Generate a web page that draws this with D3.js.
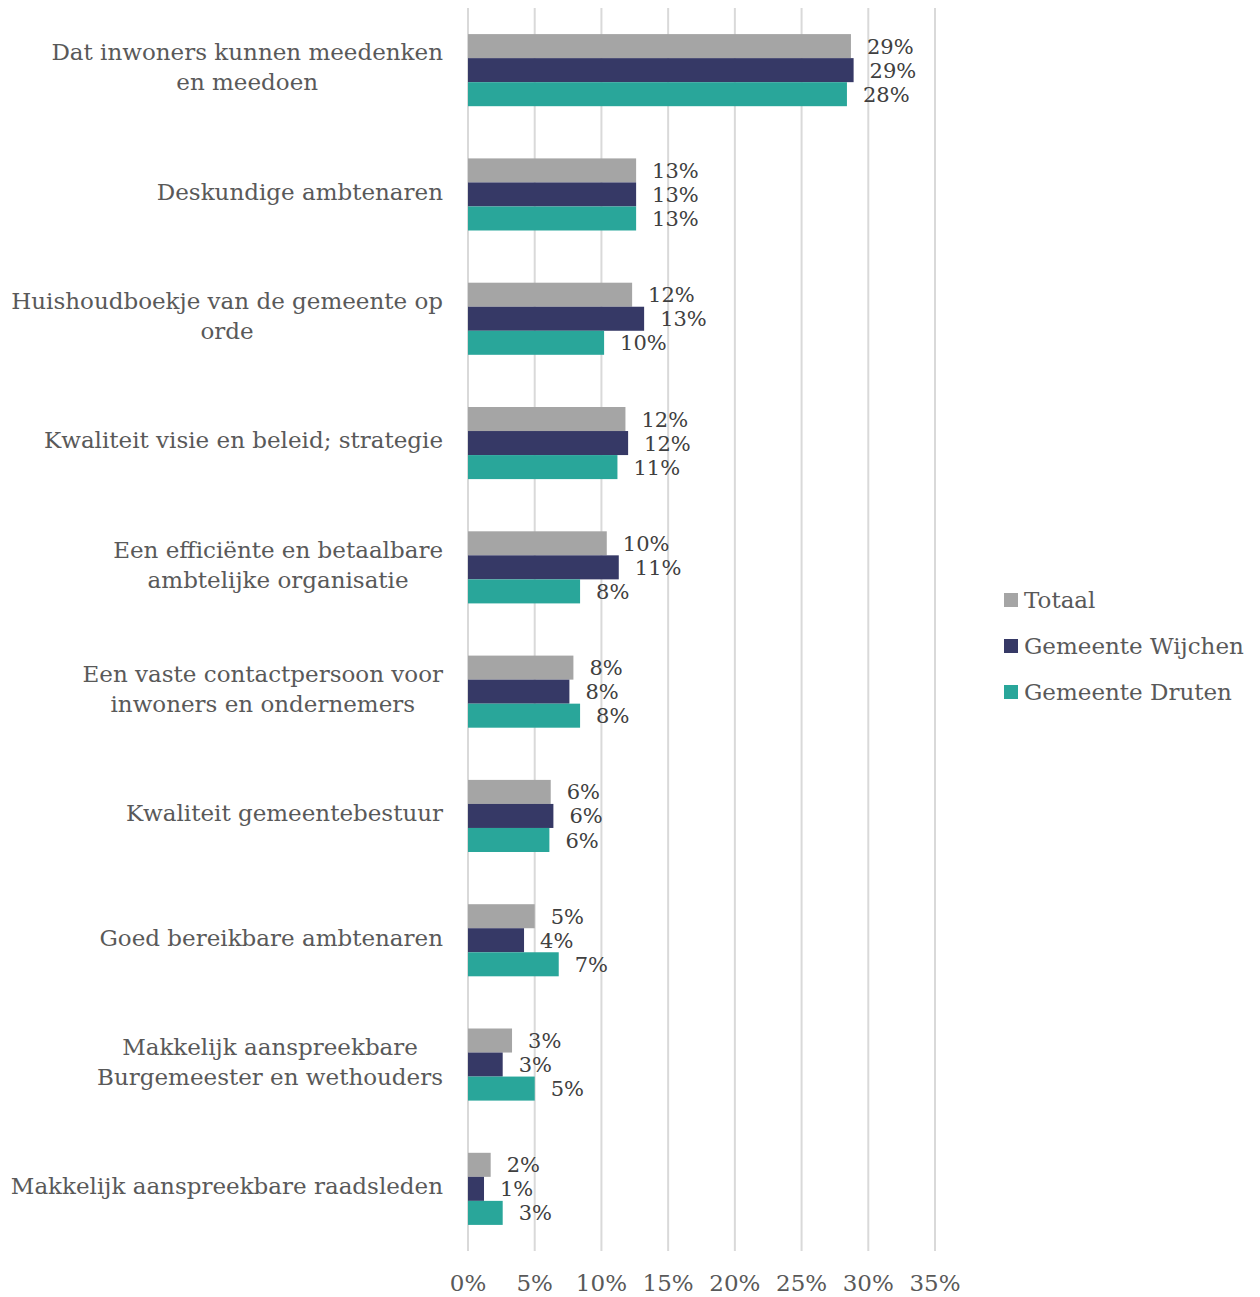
<!DOCTYPE html>
<html>
<head>
<meta charset="utf-8">
<script src="https://cdn.jsdelivr.net/npm/d3@7"></script>
<style>
  html, body { margin: 0; padding: 0; background: #fff; }
  svg { display: block; font-family: "DejaVu Serif", serif; }
</style>
</head>
<body>
<svg id="chart" width="1260" height="1297"></svg>
<script>
const categories = [
  ["Dat inwoners kunnen meedenken", "en meedoen"],
  ["Deskundige ambtenaren"],
  ["Huishoudboekje van de gemeente op", "orde"],
  ["Kwaliteit visie en beleid; strategie"],
  ["Een efficiënte en betaalbare", "ambtelijke organisatie"],
  ["Een vaste contactpersoon voor", "inwoners en ondernemers"],
  ["Kwaliteit gemeentebestuur"],
  ["Goed bereikbare ambtenaren"],
  ["Makkelijk aanspreekbare", "Burgemeester en wethouders"],
  ["Makkelijk aanspreekbare raadsleden"]
];
const seriesNames = ["Totaal", "Gemeente Wijchen", "Gemeente Druten"];
const totaal  = [28.7, 12.6, 12.3, 11.8, 10.4, 7.9, 6.2, 5.0, 3.3, 1.7];
const wijchen = [28.9, 12.6, 13.2, 12.0, 11.3, 7.6, 6.4, 4.2, 2.6, 1.2];
const druten  = [28.4, 12.6, 10.2, 11.2, 8.4, 8.4, 6.1, 6.8, 5.0, 2.6];
const seriesValues = [totaal, wijchen, druten];
const colors = ["#A5A5A5", "#363966", "#29A69A"];
const xTicks = [0, 5, 10, 15, 20, 25, 30, 35];

const svg = d3.select("#chart");
const x = d3.scaleLinear().domain([0, 35]).range([468, 935]);
const catIdx = categories.map((d, i) => i);
const y = d3.scaleBand().domain(catIdx).range([8, 1251]).paddingInner(0.42).paddingOuter(0.21);
const ys = d3.scaleBand().domain(d3.range(seriesNames.length)).range([0, y.bandwidth()]);

// gridlines
svg.append("g").selectAll("line").data(xTicks).join("line")
  .attr("x1", d => x(d)).attr("x2", d => x(d))
  .attr("y1", 8).attr("y2", 1251)
  .attr("stroke", "#D9D9D9").attr("stroke-width", 2);

// x tick labels
svg.append("g").selectAll("text").data(xTicks).join("text")
  .attr("x", d => x(d)).attr("y", 1291)
  .attr("text-anchor", "middle")
  .attr("font-size", 23).attr("fill", "#595959")
  .text(d => d + "%");

// bars
const groups = svg.append("g").selectAll("g").data(catIdx).join("g")
  .attr("transform", d => `translate(0,${y(d)})`);

groups.selectAll("rect").data(ci => seriesValues.map((s, si) => ({ si, v: s[ci] }))).join("rect")
  .attr("x", x(0))
  .attr("y", d => ys(d.si))
  .attr("width", d => x(d.v) - x(0))
  .attr("height", ys.bandwidth())
  .attr("fill", d => colors[d.si]);

groups.selectAll("text").data(ci => seriesValues.map((s, si) => ({ si, v: s[ci] }))).join("text")
  .attr("x", d => x(d.v) + 16)
  .attr("y", d => ys(d.si) + ys.bandwidth() / 2)
  .attr("dy", "0.36em")
  .attr("font-size", 21).attr("fill", "#404040")
  .text(d => Math.round(d.v) + "%");

// category labels (block right-aligned, lines centred within block)
const lab = svg.append("g").selectAll("text").data(catIdx).join("text")
  .attr("text-anchor", "middle")
  .attr("font-size", 23).attr("fill", "#595959");
lab.each(function(d) {
  const lines = categories[d];
  const lh = 30;
  const t = d3.select(this);
  const cy = y(d) + y.bandwidth() / 2;
  const spans = lines.map((l, i) =>
    t.append("tspan")
      .attr("y", cy + (i - (lines.length - 1) / 2) * lh - 3)
      .attr("dy", "0.36em")
      .text(l));
  const maxW = d3.max(spans, s => s.node().getComputedTextLength());
  spans.forEach(s => s.attr("x", 443 - maxW / 2));
});

// legend
const leg = svg.append("g").selectAll("g").data(seriesNames).join("g")
  .attr("transform", (d, i) => `translate(1004,${600 + i * 46})`);
leg.append("rect").attr("x", 0).attr("y", -7).attr("width", 14).attr("height", 14)
  .attr("fill", (d, i) => colors[i]);
leg.append("text").attr("x", 20).attr("y", 0).attr("dy", "0.36em")
  .attr("font-size", 23).attr("fill", "#595959").text(d => d);
</script>
</body>
</html>
